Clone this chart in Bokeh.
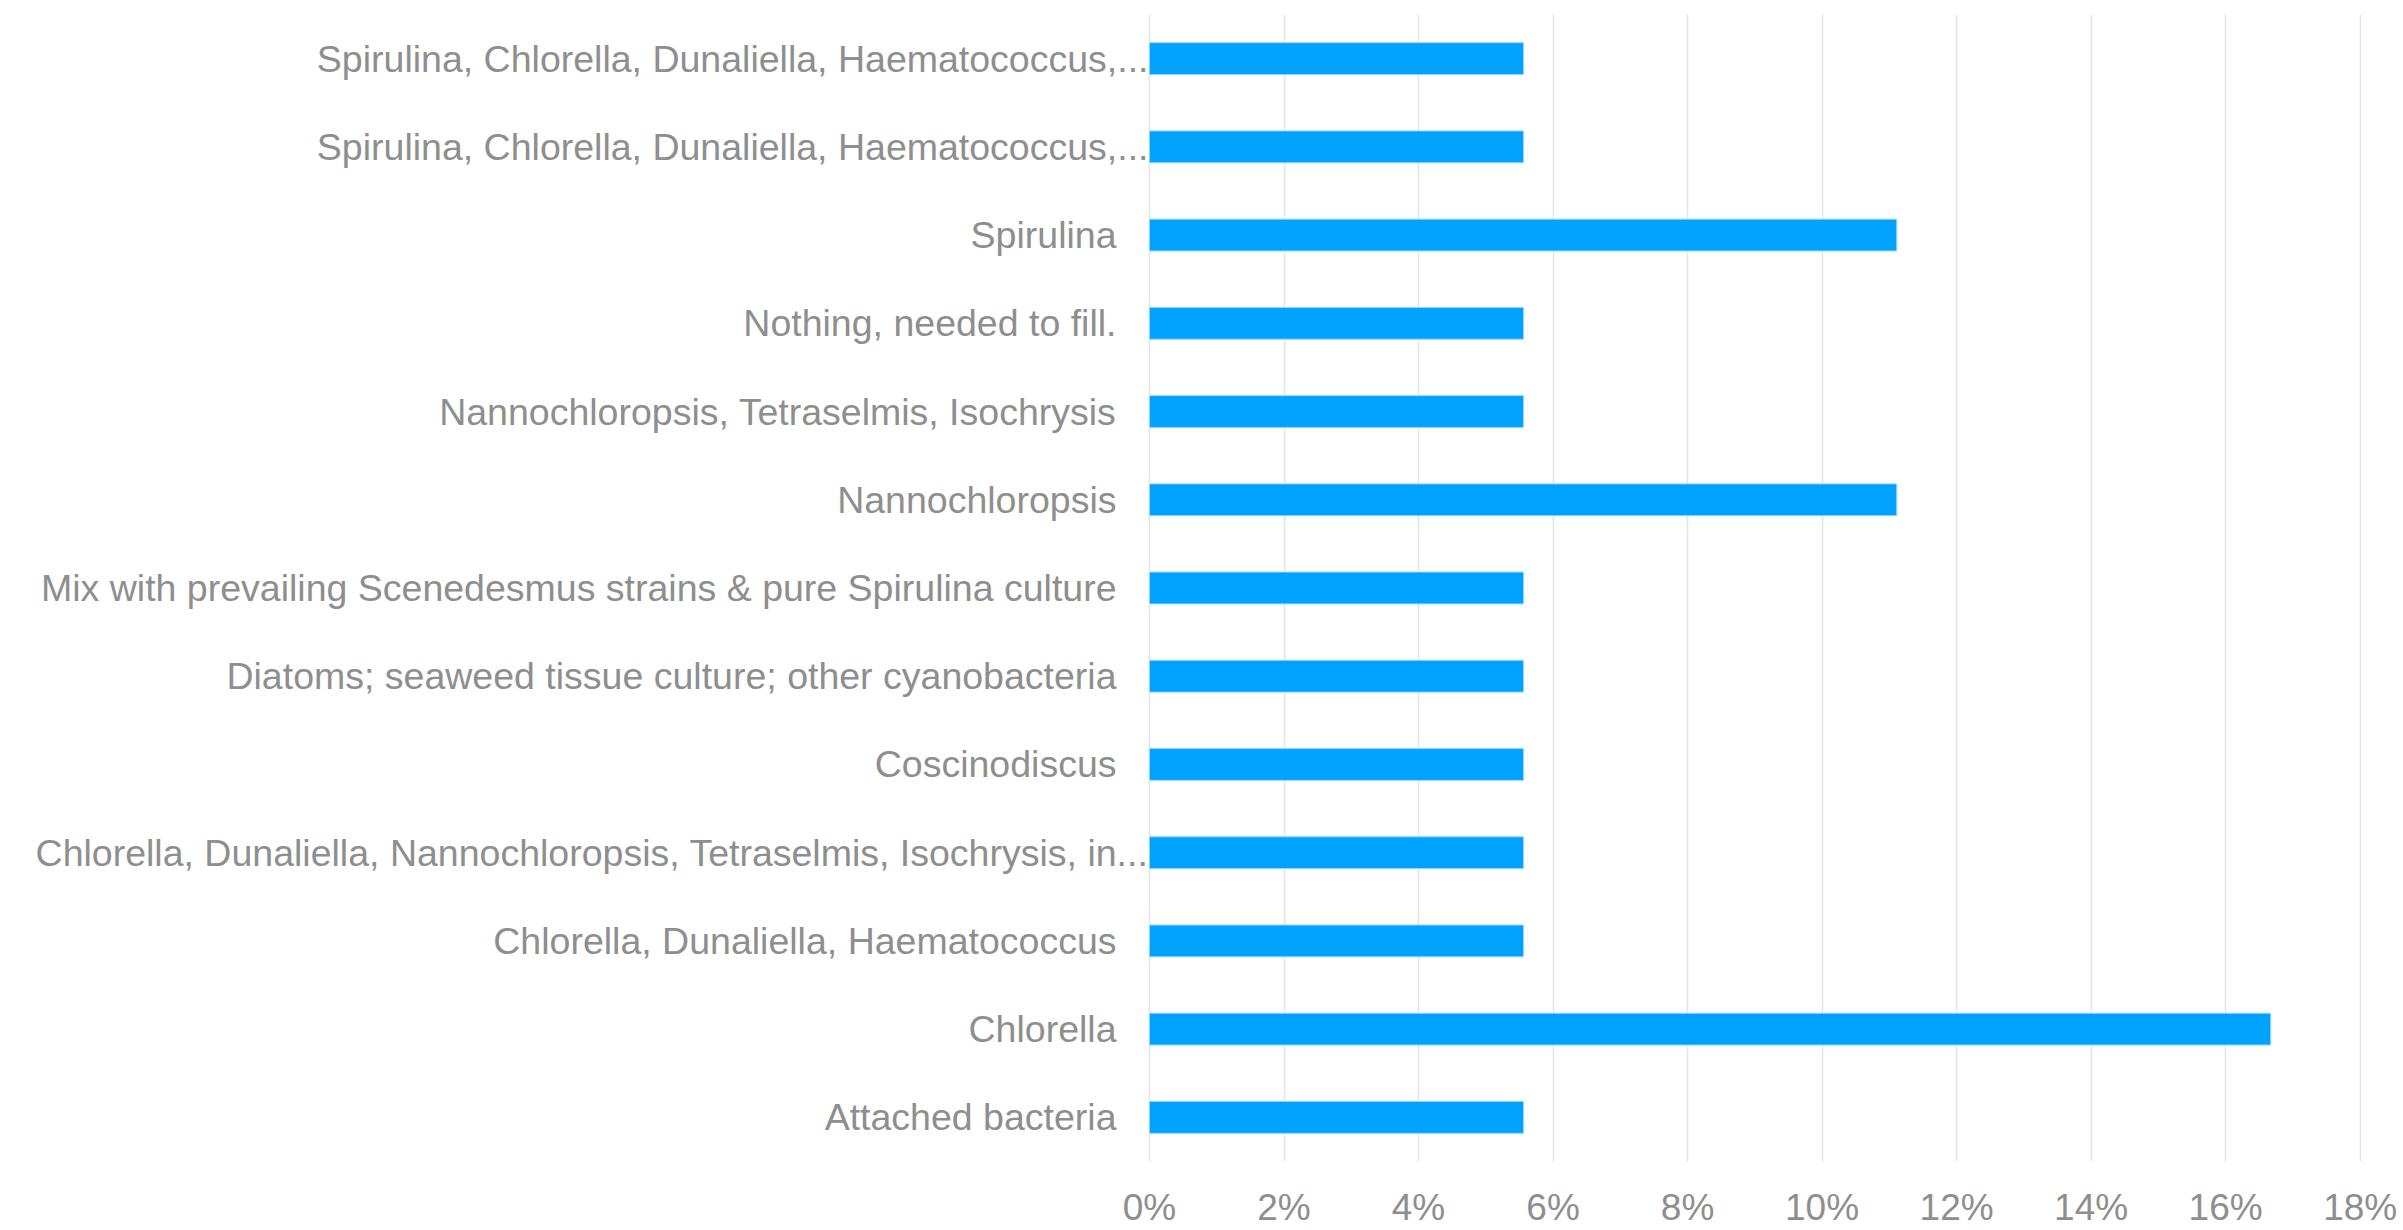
from bokeh.plotting import figure
from bokeh.models import ColumnDataSource, FixedTicker, Range1d
from bokeh.core.properties import value
from bokeh.embed import file_html
from bokeh.resources import INLINE

# Share of responses per cultivated species group (percent), listed top to bottom
categories = [
    "Spirulina, Chlorella, Dunaliella, Haematococcus,...",
    "Spirulina, Chlorella, Dunaliella, Haematococcus,...",
    "Spirulina",
    "Nothing, needed to fill.",
    "Nannochloropsis, Tetraselmis, Isochrysis",
    "Nannochloropsis",
    "Mix with prevailing Scenedesmus strains & pure Spirulina culture",
    "Diatoms; seaweed tissue culture; other cyanobacteria",
    "Coscinodiscus",
    "Chlorella, Dunaliella, Nannochloropsis, Tetraselmis, Isochrysis, in...",
    "Chlorella, Dunaliella, Haematococcus",
    "Chlorella",
    "Attached bacteria",
]
values = [5.56, 5.56, 11.11, 5.56, 5.56, 11.11, 5.56, 5.56, 5.56, 5.56, 5.56, 16.67, 5.56]
x_ticks = [0, 2, 4, 6, 8, 10, 12, 14, 16, 18]
tick_labels = [f"{t}%" for t in x_ticks]

n = len(categories)
ypos = [n - 1 - i + 0.5 for i in range(n)]
truncated = [c.endswith("...") for c in categories]

FONT = "Liberation Sans"
GREY = "#8e8e8e"

W, H = 2403, 1230
LEFT_PX = 1149          # pixel column of the 0% line
RIGHT_PAD = 42
x_end = 18.02
px_per_unit = (W - RIGHT_PAD - LEFT_PX) / x_end
x_start = -LEFT_PX / px_per_unit   # room on the left for the category names

src = ColumnDataSource(dict(
    cat=categories,
    y=ypos,
    val=values,
    zero=[0] * n,
    off=[-1 if t else -33 for t in truncated],
))

p = figure(
    width=W, height=H,
    x_range=Range1d(x_start, x_end), y_range=Range1d(0, n),
    output_backend="svg", toolbar_location=None,
    min_border_left=0, min_border_right=RIGHT_PAD,
    min_border_top=14, min_border_bottom=0,
)
p.outline_line_color = None
p.background_fill_color = "white"
p.border_fill_color = "white"

p.hbar(y="y", right="val", left=0, height=0.36, source=src,
       fill_color="#00a2ff", line_color="#8fd5ff", line_width=1)

# category names, right-aligned against the 0% line
p.text(x="zero", y="y", text="cat", x_offset="off", source=src,
       text_align="right", text_baseline="middle",
       text_font=value(FONT), text_font_size="37.5px", text_color=GREY)

# x axis: percentage tick labels only
p.xaxis.ticker = FixedTicker(ticks=x_ticks)
p.xaxis.major_label_overrides = {t: lab for t, lab in zip(x_ticks, tick_labels)}
p.xaxis.axis_line_color = None
p.xaxis.major_tick_line_color = None
p.xaxis.minor_tick_line_color = None
p.xaxis.major_label_text_font = FONT
p.xaxis.major_label_text_font_size = "37px"
p.xaxis.major_label_text_color = GREY
p.xaxis.major_label_standoff = 19

p.xgrid.ticker = FixedTicker(ticks=x_ticks)
p.xgrid.grid_line_color = "#e4e4e4"
p.xgrid.grid_line_width = 1.5
p.ygrid.grid_line_color = None

p.yaxis.visible = False

open("out.html", "w").write(file_html(p, INLINE))
